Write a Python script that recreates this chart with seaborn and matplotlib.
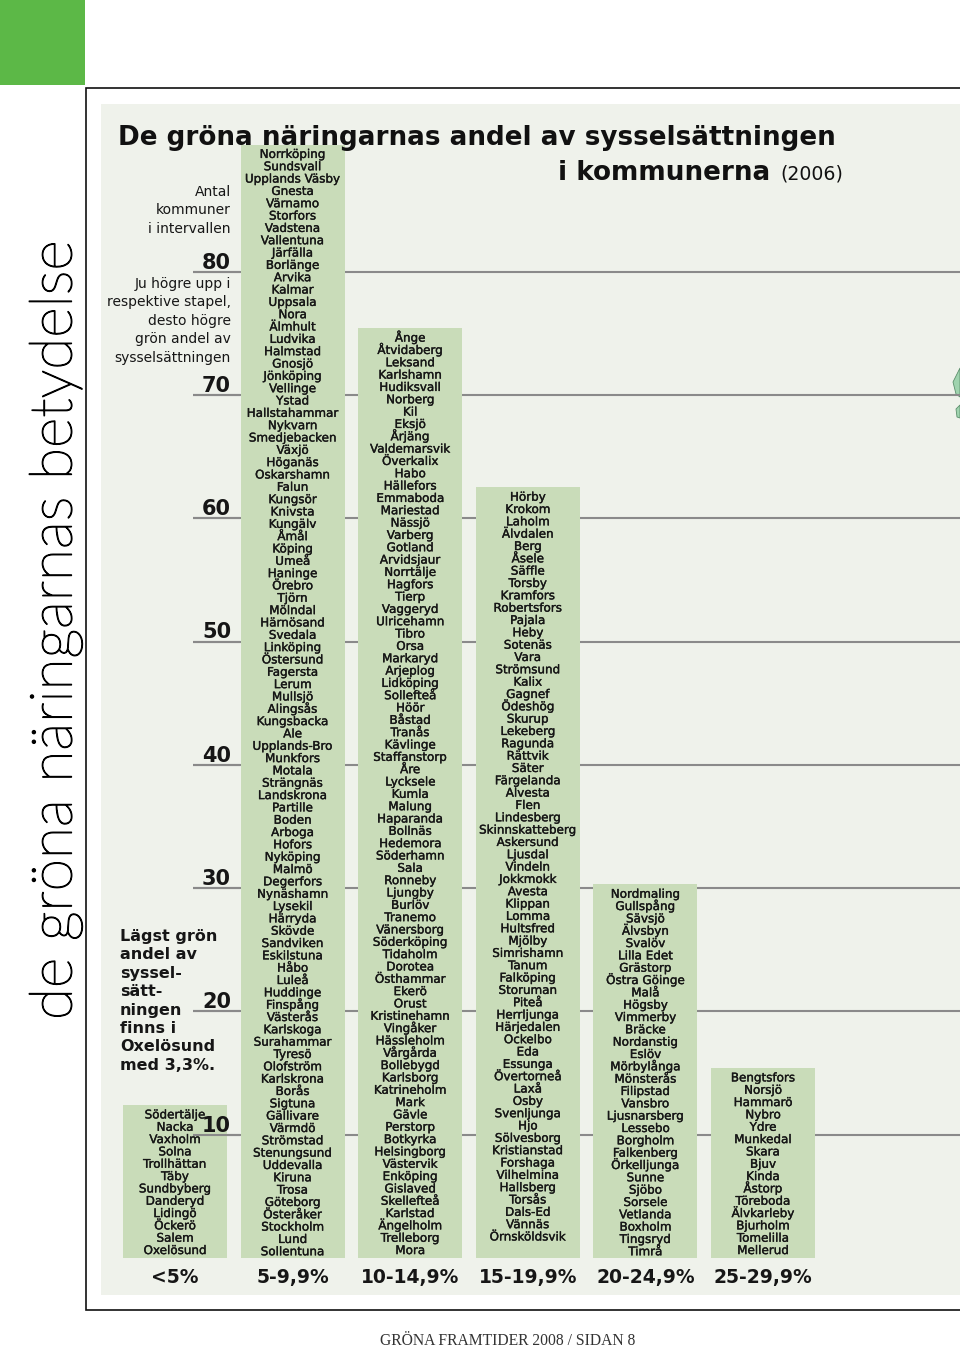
import matplotlib
matplotlib.use("Agg")
import matplotlib.pyplot as plt
import matplotlib.patheffects as pe
import seaborn as sns
import pandas as pd
from matplotlib.patches import Rectangle, Polygon

# ---------------- data ----------------
categories = ["<5%", "5-9,9%", "10-14,9%", "15-19,9%", "20-24,9%", "25-29,9%"]

bar_heights = [12.4, 90.3, 75.4, 62.5, 30.3, 15.4]

kommuner_under_5 = ["Södertälje", "Nacka", "Vaxholm", "Solna", "Trollhättan", "Täby",
                    "Sundbyberg", "Danderyd", "Lidingö", "Öckerö", "Salem", "Oxelösund"]

kommuner_5_10 = ["Norrköping", "Sundsvall", "Upplands Väsby", "Gnesta", "Värnamo", "Storfors",
                 "Vadstena", "Vallentuna", "Järfälla", "Borlänge", "Arvika", "Kalmar", "Uppsala",
                 "Nora", "Älmhult", "Ludvika", "Halmstad", "Gnosjö", "Jönköping", "Vellinge",
                 "Ystad", "Hallstahammar", "Nykvarn", "Smedjebacken", "Växjö", "Höganäs",
                 "Oskarshamn", "Falun", "Kungsör", "Knivsta", "Kungälv", "Åmål", "Köping", "Umeå",
                 "Haninge", "Örebro", "Tjörn", "Mölndal", "Härnösand", "Svedala", "Linköping",
                 "Östersund", "Fagersta", "Lerum", "Mullsjö", "Alingsås", "Kungsbacka", "Ale",
                 "Upplands-Bro", "Munkfors", "Motala", "Strängnäs", "Landskrona", "Partille",
                 "Boden", "Arboga", "Hofors", "Nyköping", "Malmö", "Degerfors", "Nynäshamn",
                 "Lysekil", "Härryda", "Skövde", "Sandviken", "Eskilstuna", "Håbo", "Luleå",
                 "Huddinge", "Finspång", "Västerås", "Karlskoga", "Surahammar", "Tyresö",
                 "Olofström", "Karlskrona", "Borås", "Sigtuna", "Gällivare", "Värmdö",
                 "Strömstad", "Stenungsund", "Uddevalla", "Kiruna", "Trosa", "Göteborg",
                 "Österåker", "Stockholm", "Lund", "Sollentuna"]

kommuner_10_15 = ["Ånge", "Åtvidaberg", "Leksand", "Karlshamn", "Hudiksvall", "Norberg", "Kil",
                  "Eksjö", "Årjäng", "Valdemarsvik", "Överkalix", "Habo", "Hällefors",
                  "Emmaboda", "Mariestad", "Nässjö", "Varberg", "Gotland", "Arvidsjaur",
                  "Norrtälje", "Hagfors", "Tierp", "Vaggeryd", "Ulricehamn", "Tibro", "Orsa",
                  "Markaryd", "Arjeplog", "Lidköping", "Sollefteå", "Höör", "Båstad", "Tranås",
                  "Kävlinge", "Staffanstorp", "Åre", "Lycksele", "Kumla", "Malung", "Haparanda",
                  "Bollnäs", "Hedemora", "Söderhamn", "Sala", "Ronneby", "Ljungby", "Burlöv",
                  "Tranemo", "Vänersborg", "Söderköping", "Tidaholm", "Dorotea", "Östhammar",
                  "Ekerö", "Orust", "Kristinehamn", "Vingåker", "Hässleholm", "Vårgårda",
                  "Bollebygd", "Karlsborg", "Katrineholm", "Mark", "Gävle", "Perstorp",
                  "Botkyrka", "Helsingborg", "Västervik", "Enköping", "Gislaved", "Skellefteå",
                  "Karlstad", "Ängelholm", "Trelleborg", "Mora"]

kommuner_15_20 = ["Hörby", "Krokom", "Laholm", "Älvdalen", "Berg", "Åsele", "Säffle", "Torsby",
                  "Kramfors", "Robertsfors", "Pajala", "Heby", "Sotenäs", "Vara", "Strömsund",
                  "Kalix", "Gagnef", "Ödeshög", "Skurup", "Lekeberg", "Ragunda", "Rättvik",
                  "Säter", "Färgelanda", "Alvesta", "Flen", "Lindesberg", "Skinnskatteberg",
                  "Askersund", "Ljusdal", "Vindeln", "Jokkmokk", "Avesta", "Klippan", "Lomma",
                  "Hultsfred", "Mjölby", "Simrishamn", "Tanum", "Falköping", "Storuman", "Piteå",
                  "Herrljunga", "Härjedalen", "Ockelbo", "Eda", "Essunga", "Övertorneå", "Laxå",
                  "Osby", "Svenljunga", "Hjo", "Sölvesborg", "Kristianstad", "Forshaga",
                  "Vilhelmina", "Hallsberg", "Torsås", "Dals-Ed", "Vännäs", "Örnsköldsvik"]

kommuner_20_25 = ["Nordmaling", "Gullspång", "Sävsjö", "Älvsbyn", "Svalöv", "Lilla Edet",
                  "Grästorp", "Östra Göinge", "Malå", "Högsby", "Vimmerby", "Bräcke",
                  "Nordanstig", "Eslöv", "Mörbylånga", "Mönsterås", "Filipstad", "Vansbro",
                  "Ljusnarsberg", "Lessebo", "Borgholm", "Falkenberg", "Örkelljunga", "Sunne",
                  "Sjöbo", "Sorsele", "Vetlanda", "Boxholm", "Tingsryd", "Timrå"]

kommuner_25_30 = ["Bengtsfors", "Norsjö", "Hammarö", "Nybro", "Ydre", "Munkedal", "Skara",
                  "Bjuv", "Kinda", "Åstorp", "Töreboda", "Älvkarleby", "Bjurholm", "Tomelilla",
                  "Mellerud"]

y_ticks = [10, 20, 30, 40, 50, 60, 70, 80]

title_line1 = "De gröna näringarnas andel av sysselsättningen"
title_line2 = "i kommunerna"
title_year = "(2006)"
side_title = "de gröna näringarnas betydelse"
note_antal = ["Antal", "kommuner", "i intervallen"]
note_hogre = ["Ju högre upp i", "respektive stapel,", "desto högre", "grön andel av",
              "sysselsättningen"]
note_lagst = ["Lägst grön", "andel av", "syssel-", "sätt-", "ningen", "finns i",
              "Oxelösund", "med 3,3%."]
footer = "GRÖNA FRAMTIDER 2008 / SIDAN 8"

groups = [kommuner_under_5, kommuner_5_10, kommuner_10_15,
          kommuner_15_20, kommuner_20_25, kommuner_25_30]

# ---------------- figure ----------------
sns.set_theme(style="white")
plt.rcParams["font.family"] = ["DejaVu Sans"]

W, H = 960, 1350
fig = plt.figure(figsize=(W / 100, H / 100), dpi=100)
fig.patch.set_facecolor("white")


def fx(x):
    return x / W


def fy(y):
    return 1 - y / H


renderer = fig.canvas.get_renderer()


def fit(t, target, dim="w"):
    bb = t.get_window_extent(renderer=renderer)
    cur = bb.width if dim == "w" else bb.height
    t.set_fontsize(t.get_fontsize() * target / cur)


TXT = "#161616"
BAR = "#c9dcb9"
GRID = "#8a8a8a"

# decorations
fig.add_artist(Rectangle((0, fy(85)), fx(85), 85 / H, transform=fig.transFigure,
                         facecolor="#5cb847", edgecolor="none", zorder=-3))
fig.add_artist(Rectangle((fx(86), fy(1310)), fx(880), (1310 - 88) / H, transform=fig.transFigure,
                         facecolor="white", edgecolor="#111111", lw=1.2, zorder=-2))
fig.add_artist(Rectangle((fx(101), fy(1295)), fx(870), (1295 - 104) / H, transform=fig.transFigure,
                         facecolor="#eff2eb", edgecolor="none", zorder=-1))
fig.add_artist(Polygon([(fx(960), fy(368)), (fx(953), fy(382)), (fx(956), fy(394)), (fx(960), fy(397))],
                       closed=True, transform=fig.transFigure, facecolor="#9fd3ae",
                       edgecolor="#5b8f6b", lw=0.6, zorder=-0.5))
fig.add_artist(Polygon([(fx(960), fy(405)), (fx(956), fy(409)), (fx(957), fy(417)), (fx(960), fy(418))],
                       closed=True, transform=fig.transFigure, facecolor="#9fd3ae",
                       edgecolor="#5b8f6b", lw=0.6, zorder=-0.5))

# ---------------- axes / bars ----------------
UNIT = 12.33          # px per kommun
Y0 = 1258             # px of zero line
YMAX = 92
STEP = 117.6          # px between bar centres
C0 = 175              # px of first bar centre
ax = fig.add_axes([fx(101), (H - Y0) / H, (W - 101) / W, YMAX * UNIT / H])
ax.patch.set_alpha(0)


def dx(px):
    return (px - C0) / STEP


df = pd.DataFrame({"intervall": categories, "antal": bar_heights})
sns.barplot(data=df, x="intervall", y="antal", order=categories, color=BAR,
            saturation=1, width=104 / STEP, linewidth=0, ax=ax, zorder=2)

ax.set_xlim(dx(101), dx(W))
ax.set_ylim(0, YMAX)
for s in ax.spines.values():
    s.set_visible(False)
ax.set_yticks([])
ax.set_xlabel("")
ax.set_ylabel("")
ax.tick_params(axis="x", length=0, pad=7, labelsize=13.5, colors=TXT)
for lbl in ax.get_xticklabels():
    lbl.set_fontweight("bold")

# gridlines and labels
for v in y_ticks:
    ax.plot([dx(193), dx(W + 5)], [v, v], color=GRID, lw=1.5, zorder=1, solid_capstyle="butt")
    ax.plot([dx(193), dx(240)], [v, v], color=GRID, lw=1.5, zorder=3, solid_capstyle="butt")
    ax.text(dx(231), v + 0.25, str(v), ha="right", va="baseline", fontsize=15,
            fontweight="bold", color=TXT, zorder=4)

# names inside bars, listed from the top of each bar
stroke = [pe.withStroke(linewidth=0.25, foreground=TXT)]
for i, names in enumerate(groups):
    top = bar_heights[i]
    for j, name in enumerate(names):
        ax.text(i, top - 1.08 - j, name, ha="center", va="baseline", fontsize=8.6,
                color=TXT, zorder=5, path_effects=stroke)

# ---------------- texts ----------------
t1 = fig.text(fx(118), fy(145), title_line1, ha="left", va="baseline", fontsize=20,
              fontweight="bold", color="#111111")
fit(t1, 836 - 118)
fs_title = t1.get_fontsize()
fig.text(fx(770), fy(180), title_line2, ha="right", va="baseline", fontsize=fs_title,
         fontweight="bold", color="#111111")
fig.text(fx(780), fy(180), title_year, ha="left", va="baseline", fontsize=fs_title * 0.72,
         color="#111111")

ts = fig.text(fx(55), fy(630), side_title, rotation=90, ha="center", va="center",
              fontsize=36, family=["Lato", "DejaVu Sans"], fontweight="light", color="#000000",
              path_effects=[pe.withStroke(linewidth=0.9, foreground="#000000")])
fit(ts, 1020 - 240, dim="h")

# notes, one text per line (baselines in px)
LS = 18.4
for k, line in enumerate(note_antal):
    fig.text(fx(231), fy(196 + LS * k), line, ha="right", va="baseline", fontsize=10, color=TXT)
for k, line in enumerate(note_hogre):
    fig.text(fx(231), fy(288 + LS * k), line, ha="right", va="baseline", fontsize=10, color=TXT)
for k, line in enumerate(note_lagst):
    fig.text(fx(120), fy(941 + LS * k), line, ha="left", va="baseline", fontsize=11.5,
             fontweight="bold", color=TXT)

tf = fig.text(fx(508), fy(1341), footer, ha="center", va="center", fontsize=9,
              family=["Liberation Serif", "DejaVu Serif"], color="#333333")
fit(tf, 255)

fig.savefig("out.png", dpi=100, facecolor="white")
